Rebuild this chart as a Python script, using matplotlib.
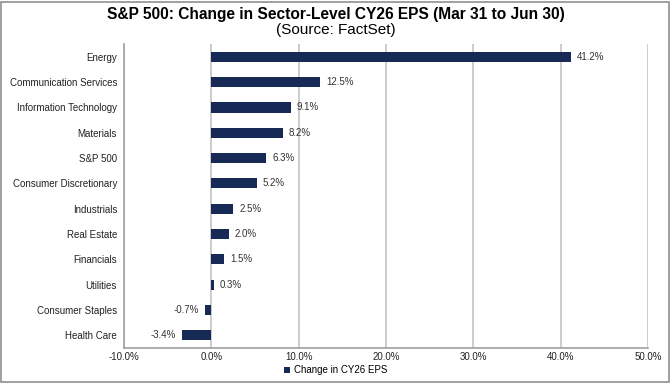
import matplotlib.pyplot as plt
from matplotlib.patches import Rectangle
from matplotlib.ticker import FuncFormatter

plt.rcParams['font.family'] = ['Liberation Sans', 'DejaVu Sans']

sectors = ['Energy', 'Communication Services', 'Information Technology', 'Materials',
           'S&P 500', 'Consumer Discretionary', 'Industrials', 'Real Estate',
           'Financials', 'Utilities', 'Consumer Staples', 'Health Care']
changes = [41.2, 12.5, 9.1, 8.2, 6.3, 5.2, 2.5, 2.0, 1.5, 0.3, -0.7, -3.4]

bar_color = '#172a56'
grid_color = '#c4c4c4'

fig = plt.figure(figsize=(6.72, 3.84), dpi=100)
ax = fig.add_axes([0.1845, 0.094, 0.7795, 0.791])

pos = list(range(len(sectors)))[::-1]
ax.barh(pos, changes, height=0.4, color=bar_color, zorder=3, label='Change in CY26 EPS')

# value labels next to the bar ends
for y, v in zip(pos, changes):
    if v >= 0:
        ax.text(v + 0.7, y, f'{v:.1f}%', va='center', ha='left', fontsize=7, color='#333333')
    else:
        ax.text(v - 0.7, y, f'{v:.1f}%', va='center', ha='right', fontsize=7, color='#333333')

ax.set_xlim(-10, 50)
ax.set_ylim(-0.5, len(sectors) - 0.5)
ax.set_xticks(range(-10, 51, 10))
ax.xaxis.set_major_formatter(FuncFormatter(lambda x, p: f'{x:.1f}%'))
ax.set_yticks(pos)
ax.set_yticklabels(sectors)
ax.tick_params(axis='both', length=0, labelsize=7, colors='#222222')
ax.tick_params(axis='y', pad=5)
ax.tick_params(axis='x', pad=3)
ax.grid(axis='x', color=grid_color, linewidth=1.2, zorder=0)

for side in ['top', 'right']:
    ax.spines[side].set_visible(False)
for side in ['left', 'bottom']:
    ax.spines[side].set_color('#a0a0a0')
    ax.spines[side].set_linewidth(1.2)

fig.text(0.5, 0.963, 'S&P 500: Change in Sector-Level CY26 EPS (Mar 31 to Jun 30)',
         ha='center', va='center', fontsize=11.2, fontweight='bold')
fig.text(0.5, 0.922, '(Source: FactSet)', ha='center', va='center', fontsize=11)

fig.legend(loc='center', bbox_to_anchor=(0.5, 0.036), frameon=False, fontsize=7,
           handlelength=0.6, handleheight=0.6, handletextpad=0.4)

fig.patches.append(Rectangle((0.002, 0.004), 0.994, 0.992, transform=fig.transFigure,
                             fill=False, edgecolor='#909090', linewidth=1.2))

fig.savefig('out.png', dpi=100)
